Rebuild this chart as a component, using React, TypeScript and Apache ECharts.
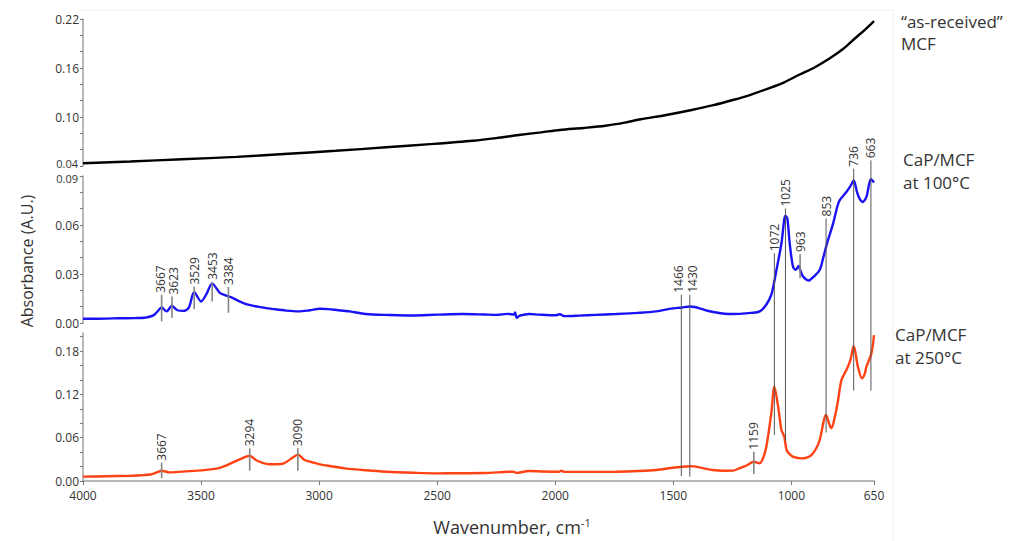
import React, { useEffect, useRef } from "react";
import * as echarts from "echarts";

// Wavenumber axis labels (cm-1), drawn right-to-left
const xTickLabels = [4000, 3500, 3000, 2500, 2000, 1500, 1000, 650];

// Absorbance tick labels and minor tick positions of each stacked panel
const asReceivedTicks = [0.04, 0.1, 0.16, 0.22];
const asReceivedMinor = [0.04, 0.06, 0.08, 0.1, 0.12, 0.14, 0.16, 0.18, 0.2, 0.22];
const cap100Ticks = [0, 0.03, 0.06, 0.09];
const cap100Minor = [0, 0.01, 0.02, 0.03, 0.04, 0.05, 0.06, 0.07, 0.08, 0.09];
const cap250Ticks = [0, 0.06, 0.12, 0.18];
const cap250Minor = [0, 0.02, 0.04, 0.06, 0.08, 0.1, 0.12, 0.14, 0.16, 0.18, 0.2];

// "as-received" MCF spectrum: [wavenumber, absorbance]
const asReceivedMCF: [number, number][] = [
  [4000, 0.0433], [3800, 0.0455], [3581, 0.0482], [3350, 0.0512], [3149, 0.0547],
  [2930, 0.0586], [2717, 0.0629], [2530, 0.0668], [2349, 0.071], [2250, 0.0742],
  [2154, 0.078], [2060, 0.0812], [1981, 0.0841], [1880, 0.0866], [1788, 0.0893],
  [1700, 0.0935], [1638, 0.0972], [1530, 0.1025], [1422, 0.1086], [1330, 0.1145],
  [1248, 0.1208], [1170, 0.1275], [1096, 0.1351], [1030, 0.1425], [969, 0.1514],
  [900, 0.161], [837, 0.1719], [780, 0.1835], [730, 0.1964], [690, 0.2065], [650, 0.2175],
];

// CaP/MCF at 100°C spectrum
const capMCF100: [number, number][] = [
  [4000, 0.0026], [3900, 0.0027], [3850, 0.0029], [3780, 0.003], [3733, 0.0034],
  [3700, 0.0048], [3680, 0.0078], [3667, 0.0095], [3646, 0.0071], [3624, 0.0104],
  [3600, 0.0078], [3575, 0.0074], [3552, 0.0094], [3529, 0.0189], [3500, 0.0132],
  [3478, 0.0175], [3453, 0.0241], [3419, 0.0183], [3390, 0.0166], [3365, 0.0152],
  [3330, 0.0128], [3301, 0.0112], [3250, 0.0097], [3191, 0.0085], [3140, 0.0076],
  [3086, 0.0071], [3040, 0.0078], [2997, 0.0087], [2960, 0.0085], [2933, 0.0081],
  [2900, 0.0075], [2870, 0.0071], [2803, 0.0055], [2700, 0.0049], [2609, 0.0046],
  [2500, 0.0051], [2392, 0.0055], [2300, 0.0052], [2250, 0.005], [2200, 0.0056],
  [2175, 0.0052], [2170, 0.0064], [2163, 0.0032], [2150, 0.0045], [2110, 0.0055],
  [2069, 0.0051], [2000, 0.0047], [1980, 0.0054], [1961, 0.0042], [1900, 0.0045],
  [1830, 0.005], [1745, 0.0055], [1650, 0.0062], [1572, 0.0071], [1510, 0.0088],
  [1464, 0.0095], [1430, 0.0101], [1410, 0.0098], [1380, 0.0086], [1356, 0.0075],
  [1300, 0.006], [1269, 0.0055], [1218, 0.0056], [1170, 0.0062], [1134, 0.0071],
  [1105, 0.0115], [1085, 0.0173], [1072, 0.0255], [1063, 0.0325], [1042, 0.0488],
  [1030, 0.0635], [1025, 0.0655], [1017, 0.064], [1007, 0.0488], [993, 0.0345],
  [981, 0.0325], [969, 0.0349], [960, 0.0315], [950, 0.0284], [926, 0.026],
  [915, 0.0272], [905, 0.0284], [880, 0.0325], [865, 0.04], [849, 0.0488],
  [823, 0.061], [805, 0.0715], [795, 0.0752], [767, 0.0802], [750, 0.0838],
  [736, 0.0872], [722, 0.0802], [710, 0.0758], [699, 0.0741], [682, 0.0772],
  [672, 0.084], [663, 0.088], [650, 0.086],
];

// CaP/MCF at 250°C spectrum
const capMCF250: [number, number][] = [
  [4000, 0.006], [3900, 0.0066], [3797, 0.0073], [3740, 0.0082], [3710, 0.0093],
  [3685, 0.0122], [3667, 0.0143], [3635, 0.012], [3580, 0.013], [3516, 0.0143],
  [3470, 0.0158], [3429, 0.0175], [3395, 0.0212], [3365, 0.0258], [3327, 0.0314],
  [3294, 0.035], [3268, 0.0291], [3240, 0.0252], [3213, 0.0231], [3180, 0.0232],
  [3149, 0.0245], [3116, 0.0314], [3090, 0.0365], [3062, 0.0291], [3030, 0.026],
  [2997, 0.0231], [2950, 0.0205], [2891, 0.0175], [2800, 0.0148], [2717, 0.0129],
  [2600, 0.0114], [2501, 0.0106], [2400, 0.0108], [2300, 0.011], [2177, 0.0129],
  [2165, 0.0112], [2112, 0.0138], [2050, 0.0132], [1982, 0.0129], [1975, 0.0142],
  [1960, 0.0126], [1850, 0.0126], [1745, 0.0129], [1650, 0.0138], [1572, 0.0152],
  [1510, 0.018], [1464, 0.0198], [1430, 0.0205], [1410, 0.0203], [1370, 0.0175],
  [1334, 0.0152], [1290, 0.0141], [1248, 0.0143], [1218, 0.0178], [1190, 0.0215],
  [1159, 0.0267], [1134, 0.0245], [1120, 0.0315], [1106, 0.0475], [1085, 0.0937],
  [1072, 0.1306], [1056, 0.1029], [1042, 0.0706], [1030, 0.0613], [1020, 0.0429],
  [1005, 0.0365], [993, 0.0336], [957, 0.0314], [935, 0.0325], [915, 0.036],
  [895, 0.045], [880, 0.0568], [853, 0.0914], [840, 0.0795], [831, 0.073],
  [815, 0.09], [802, 0.1121], [788, 0.1398], [767, 0.1537], [750, 0.1675],
  [736, 0.1869], [718, 0.1583], [701, 0.1422], [690, 0.1478], [682, 0.1583],
  [661, 0.1768], [650, 0.202],
];

// Short peak markers: [wavenumber, lower absorbance, upper absorbance]
const peaks100: [number, number, number][] = [
  [3667, 0.001, 0.0173], [3623, 0.0032, 0.0162], [3529, 0.0085, 0.0223],
  [3453, 0.0132, 0.0252], [3384, 0.0063, 0.0221], [963, 0.0274, 0.0422],
];
const peaks250: [number, number, number][] = [
  [3667, 0.0037, 0.0253], [3294, 0.0143, 0.0453], [3090, 0.0143, 0.0453], [1159, 0.0097, 0.0406],
];
// Bands shared by both CaP/MCF spectra: [wavenumber, top (100°C panel), bottom (250°C panel)]
const sharedPeaks: [number, number, number][] = [
  [1466, 0.0173, 0.0069], [1430, 0.0173, 0.006], [1072, 0.0427, 0.0637], [1025, 0.0701, 0.0561],
  [853, 0.064, 0.0672], [736, 0.0945, 0.1253], [663, 0.0996, 0.1253],
];

const FONT = '"Open Sans", sans-serif';
const AXIS_GREY = "#a0a0a0";
const TEXT = "#333333";

// Sideways nudges (px) for labels whose marker lines sit very close together
const labelNudge: Record<string, number> = { "1-3667": -1, "1-3623": 1, "s-1466": -3, "s-1430": 3 };

const grids = [
  { left: 83, width: 791, top: 19, height: 147 },
  { left: 83, width: 791, top: 176, height: 147 },
  { left: 83, width: 791, top: 333, height: 148 },
];

// The two labels where adjacent panels meet are drawn separately, nudged apart
const isJoinLabel = (gridIndex: number, v: number, min: number, max: number) =>
  (gridIndex === 0 && v === min) || (gridIndex === 1 && v === max);

function yAxis(gridIndex: number, min: number, max: number, labels: number[], minor: number[]) {
  return {
    type: "value",
    gridIndex,
    min,
    max,
    axisLine: { show: true, lineStyle: { color: AXIS_GREY, width: 1.5 } },
    axisTick: { show: true, customValues: minor, length: 3, lineStyle: { color: "#777" } },
    axisLabel: {
      customValues: labels.filter((v) => !isJoinLabel(gridIndex, v, min, max)),
      formatter: (v: number) => v.toFixed(2),
      fontSize: 12,
      fontFamily: FONT,
      color: TEXT,
      lineHeight: 12,
      margin: 4,
    },
    splitLine: { show: false },
  };
}

function xAxis(gridIndex: number, visible: boolean) {
  return {
    type: "value",
    gridIndex,
    min: 650,
    max: 4000,
    inverse: true,
    show: visible,
    axisLine: { show: visible, onZero: false, lineStyle: { color: AXIS_GREY, width: 1.5 } },
    axisTick: { show: visible, customValues: xTickLabels, length: 4, lineStyle: { color: "#777" } },
    axisLabel: {
      show: visible,
      customValues: xTickLabels,
      formatter: (v: number) => String(v),
      fontSize: 12,
      fontFamily: FONT,
      color: TEXT,
      lineHeight: 12,
      margin: 8,
    },
    splitLine: { show: false },
  };
}

function lineSeries(idx: number, data: [number, number][], color: string) {
  return {
    type: "line",
    xAxisIndex: idx,
    yAxisIndex: idx,
    data,
    showSymbol: false,
    smooth: 0.3,
    clip: false,
    lineStyle: { color, width: 2.4 },
  };
}

export default function App() {
  const ref = useRef<HTMLDivElement>(null);

  useEffect(() => {
    if (!ref.current) return;
    const chart = echarts.init(ref.current, null, { renderer: "svg" });
    chart.setOption({
      animation: false,
      backgroundColor: "#ffffff",
      grid: grids,
      xAxis: [xAxis(0, false), xAxis(1, false), xAxis(2, true)],
      yAxis: [
        yAxis(0, 0.04, 0.22, asReceivedTicks, asReceivedMinor),
        yAxis(1, 0, 0.09, cap100Ticks, cap100Minor),
        yAxis(2, 0, 0.205, cap250Ticks, cap250Minor),
      ],
      series: [
        lineSeries(0, asReceivedMCF, "#000000"),
        lineSeries(1, capMCF100, "#1a12f5"),
        lineSeries(2, capMCF250, "#ff4314"),
      ],
    });

    const pt = (grid: number, w: number, v: number) =>
      chart.convertToPixel({ gridIndex: grid } as any, [w, v]) as number[];

    const g: any[] = [];

    // Tick labels at the panel joins, shifted slightly away from each other
    const joinLabel = (grid: number, v: number, dy: number) => {
      const p = pt(grid, 4000, v);
      g.push({
        type: "text",
        x: p[0] - 5,
        y: p[1] + dy,
        style: {
          text: v.toFixed(2),
          fill: TEXT,
          font: `11px ${FONT}`,
          lineHeight: 11,
          align: "right",
          verticalAlign: "middle",
        },
      });
    };
    joinLabel(0, asReceivedTicks[0], -3);
    joinLabel(1, cap100Ticks[cap100Ticks.length - 1], 2);

    const label = (x: number, yTop: number, text: string) => {
      g.push({
        type: "text",
        x,
        y: yTop - 2,
        rotation: Math.PI / 2,
        z: 20,
        style: {
          text,
          fill: TEXT,
          font: `12px ${FONT}`,
          align: "left",
          verticalAlign: "middle",
          textAlign: "left",
          textVerticalAlign: "middle",
        },
      });
    };
    const seg = (a: number[], b: number[], stroke: string, width: number) => {
      g.push({
        type: "line",
        z: 15,
        shape: { x1: a[0], y1: a[1], x2: b[0], y2: b[1] },
        style: { stroke, lineWidth: width },
      });
    };

    const shortMarks = (grid: number, list: [number, number, number][]) => {
      list.forEach(([w, lo, hi]) => {
        const top = pt(grid, w, hi);
        const bottom = pt(grid, w, lo);
        seg(top, bottom, "#858585", 1.6);
        label(top[0] + (labelNudge[`${grid}-${w}`] || 0), top[1], String(w));
      });
    };
    shortMarks(1, peaks100);
    shortMarks(2, peaks250);
    sharedPeaks.forEach(([w, top, bottom]) => {
      const a = pt(1, w, top);
      const b = pt(2, w, bottom);
      seg(a, b, "#555555", 1);
      label(a[0] + (labelNudge[`s-${w}`] || 0), a[1], String(w));
    });

    // Sample names to the right of each spectrum
    const sideText = (x: number, y: number, text: string) =>
      g.push({
        type: "text",
        x,
        y,
        style: {
          text,
          fill: TEXT,
          font: `17px ${FONT}`,
          lineHeight: 18,
          align: "left",
          verticalAlign: "middle",
        },
      });
    sideText(901, 21, "\u201Cas-received\u201D");
    sideText(901, 43, "MCF");
    sideText(903, 159, "CaP/MCF");
    sideText(903, 182, "at 100\u00B0C");
    sideText(895, 334, "CaP/MCF");
    sideText(895, 357, "at 250\u00B0C");

    // Axis titles
    g.push({
      type: "text",
      x: 27,
      y: 261,
      rotation: Math.PI / 2,
      style: {
        text: "Absorbance (A.U.)",
        fill: TEXT,
        font: `16px ${FONT}`,
        align: "center",
        verticalAlign: "middle",
      },
    });
    g.push({
      type: "text",
      x: 512,
      y: 527,
      style: {
        text: "Wavenumber, cm{sup|-1}",
        fill: TEXT,
        font: `18px ${FONT}`,
        align: "center",
        verticalAlign: "middle",
        rich: { sup: { fontSize: 11, fontFamily: FONT, fill: TEXT, verticalAlign: "top", padding: [0, 0, 10, 0] } },
      },
    });

    // Faint outer frame
    g.push({ type: "line", shape: { x1: 82, y1: 10, x2: 893, y2: 10 }, style: { stroke: "#efefef", lineWidth: 1 } });
    g.push({ type: "line", shape: { x1: 893, y1: 10, x2: 893, y2: 541 }, style: { stroke: "#efefef", lineWidth: 1 } });

    chart.setOption({ graphic: { elements: g } });

    return () => chart.dispose();
  }, []);

  return (
    <div
      ref={ref}
      style={{ position: "fixed", left: 0, top: 0, width: 1029, height: 541, background: "#fff" }}
    />
  );
}
